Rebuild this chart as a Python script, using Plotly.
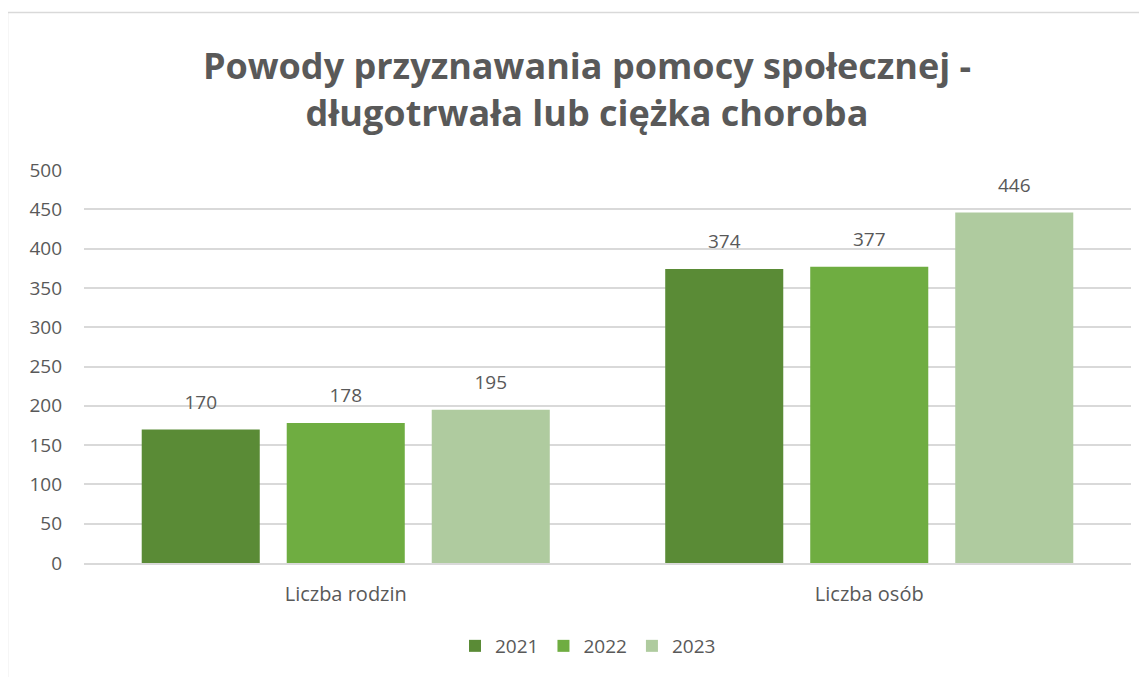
import plotly.graph_objects as go

categories = ["Liczba rodzin", "Liczba osób"]
years = ["2021", "2022", "2023"]
values_2021 = [170, 374]
values_2022 = [178, 377]
values_2023 = [195, 446]
series = [values_2021, values_2022, values_2023]
colors = ["#5a8b36", "#6fad41", "#afcb9f"]

title_text = "Powody przyznawania pomocy społecznej -<br>długotrwała lub ciężka choroba"
y_ticks = [0, 50, 100, 150, 200, 250, 300, 350, 400, 450, 500]

FONT = "Open Sans"
TXT = "#595959"
GAP = 0.169

fig = go.Figure()
for name, vals, c in zip(years, series, colors):
    fig.add_trace(go.Bar(
        name=name, x=categories, y=vals, offsetgroup=name,
        marker=dict(color=c, line=dict(width=0)),
        hoverinfo="skip",
    ))
for name, vals in zip(years, series):
    fig.add_trace(go.Scatter(
        x=categories, y=vals, offsetgroup=name, mode="markers+text",
        text=[str(v) for v in vals], textposition="top center",
        textfont=dict(family=FONT, size=19, color=TXT),
        marker=dict(size=24, opacity=0), showlegend=False, hoverinfo="skip",
        cliponaxis=False,
    ))

W, H = 1147, 677
OFF = 8  # page body margin
l, r, t, b = 76, 24, 162, 122
pw, ph = W - l - r, H - t - b

def px(x):
    return (x - OFF - l) / pw

def py(y):
    return (H - b - (y - OFF)) / ph

fig.add_shape(type="rect", xref="paper", yref="paper",
              x0=px(7.5), x1=px(W + 40), y0=py(H + 40), y1=py(12.5),
              line=dict(color="#d9d9d9", width=1.5), fillcolor="rgba(0,0,0,0)", layer="below")

fig.update_layout(
    width=W, height=H,
    margin=dict(l=l, r=r, t=t, b=b),
    paper_bgcolor="white", plot_bgcolor="white",
    barmode="group", bargap=GAP, bargroupgap=0.186,
    scattermode="group", scattergap=GAP,
    title=dict(text=title_text, x=px(587), xanchor="center", xref="paper",
               y=1 - 71 / H, yanchor="middle",
               font=dict(family=FONT, size=36, color=TXT, weight="bold")),
    font=dict(family=FONT, color=TXT, size=19),
    legend=dict(orientation="h", x=px(588), xanchor="center", y=py(646), yanchor="middle",
                font=dict(family=FONT, size=19, color=TXT), itemwidth=30,
                traceorder="normal"),
    xaxis=dict(showgrid=False, showline=True, linecolor="#d9d9d9", linewidth=1.5,
               tickfont=dict(family=FONT, size=20, color=TXT), ticks="",
               ticklabelstandoff=12),
    yaxis=dict(range=[0, 500], tickvals=y_ticks, showgrid=True, gridcolor="#d9d9d9",
               gridwidth=1.5, zeroline=False, showline=False, ticks="",
               tickfont=dict(family=FONT, size=19, color=TXT), ticklabelstandoff=21),
)

fig.write_html("out.html")
